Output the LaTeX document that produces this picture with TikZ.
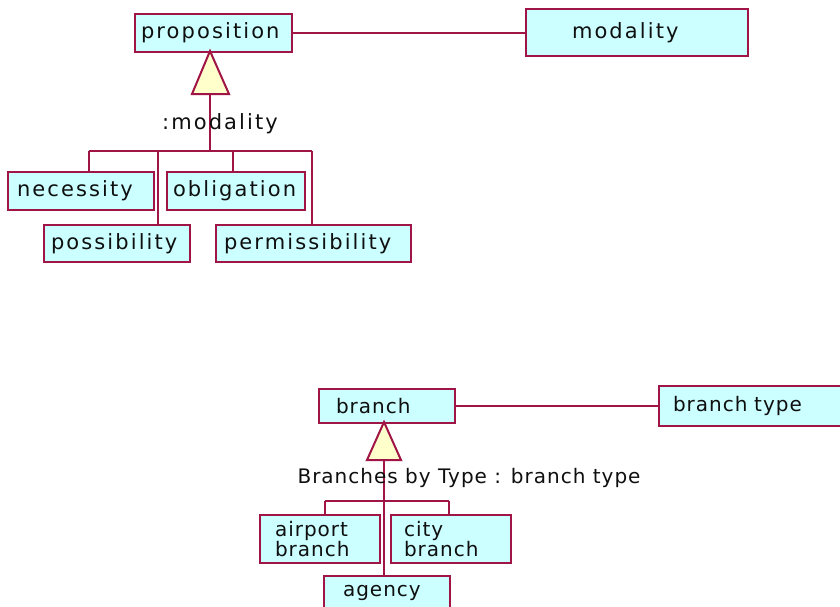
\documentclass[tikz,border=0pt]{standalone}
\usepackage{fontspec}
\newfontfamily\topfam[LetterSpace=10]{DejaVu Sans}
\newfontfamily\botfam[LetterSpace=5]{DejaVu Sans}
\newcommand\topstyle{\topfam\fontsize{21pt}{20pt}\selectfont}
\newcommand\botstyle{\botfam\fontsize{20pt}{20pt}\selectfont}
\definecolor{umlred}{RGB}{160,20,70}
\definecolor{umlfill}{RGB}{204,255,255}
\definecolor{umlyel}{RGB}{255,255,204}
\definecolor{umltext}{RGB}{15,15,15}
\tikzset{
  umlbox/.style={draw=umlred, fill=umlfill, line width=2pt, anchor=north west,
    inner ysep=0pt, align=left, text=umltext},
  conn/.style={draw=umlred, line width=2pt},
  gentri/.style={draw=umlred, fill=umlyel, line width=2pt, line join=miter},
  lbl/.style={text=umltext, inner sep=0pt},
}
% name, x1, y1, x2, y2, pad, font, text
\newcommand\umlnode[8]{%
  \pgfmathsetmacro\bxw{#4-#2}%
  \pgfmathsetmacro\bxh{#5-#3}%
  \pgfmathsetmacro\bxtw{#4-#2-2*#6}%
  \node[umlbox, minimum width=\bxw pt, minimum height=\bxh pt,
        text width=\bxtw pt, inner xsep=#6pt, font=#7] (#1) at (#2,#3) {#8};}
\begin{document}
\begin{tikzpicture}[x=1pt,y=-1pt]
\useasboundingbox (0,0) rectangle (840,606);
\fill[white] (0,0) rectangle (840,606);
\clip (0,0) rectangle (840,606);

% ---------- top diagram ----------
\umlnode{proposition}{134}{13}{291}{51}{6}{\topstyle}{\mbox{proposition}}
\umlnode{modality}{525}{8}{747}{55}{46}{\topstyle}{\mbox{modality}}
\umlnode{necessity}{7}{171}{153}{209}{9}{\topstyle}{\mbox{necessity}}
\umlnode{obligation}{166}{171}{304}{209}{6}{\topstyle}{\mbox{obligation}}
\umlnode{possibility}{43}{224}{189}{261}{7}{\topstyle}{\mbox{possibility}}
\umlnode{permissibility}{215}{224}{410}{261}{8}{\topstyle}{\mbox{permissibility}}

\draw[conn] (proposition.east) -- (proposition.east -| modality.west);

\coordinate (t1apex) at (210,51);
\coordinate (t1base) at (210,94);
\draw[gentri] (t1apex) -- (192,94) -- (229,94) -- cycle;
\coordinate (bus1) at (210,151);
\coordinate (bus1L) at (89,151);
\coordinate (bus1P) at (158,151);
\coordinate (bus1O) at (233,151);
\coordinate (bus1R) at (312,151);
\draw[conn] (t1base) -- (bus1);
\draw[conn] (bus1L) -- (bus1R);
\draw[conn] (bus1L) -- (bus1L |- necessity.north);
\draw[conn] (bus1P) -- (bus1P |- possibility.north);
\draw[conn] (bus1O) -- (bus1O |- obligation.north);
\draw[conn] (bus1R) -- (bus1R |- permissibility.north);
\node[lbl, font=\topstyle] (modlbl) at (220,124) {:modality};

% ---------- bottom diagram ----------
\umlnode{branch}{318}{388}{454}{422}{17}{\botstyle}{\mbox{branch}}
\umlnode{branchtype}{658}{385}{860}{425}{14}{\botstyle}{\mbox{branch type}}
\umlnode{airport}{259}{514}{379}{562}{15}{\botstyle}{\mbox{airport}\\\mbox{branch}}
\umlnode{city}{390}{514}{510}{562}{13}{\botstyle}{\mbox{city}\\\mbox{branch}}
\umlnode{agency}{323}{575}{449}{609}{19}{\botstyle}{\mbox{agency}}

\draw[conn] (branch.east) -- (branch.east -| branchtype.west);

\coordinate (t2apex) at (384,422);
\coordinate (t2base) at (384,460);
\draw[gentri] (t2apex) -- (367,460) -- (401,460) -- cycle;
\coordinate (bus2L) at (325,501);
\coordinate (bus2R) at (449,501);
\draw[conn] (t2base) -- (t2base |- agency.north);
\draw[conn] (bus2L) -- (bus2R);
\draw[conn] (bus2L) -- (bus2L |- airport.north);
\draw[conn] (bus2R) -- (bus2R |- city.north);
\node[lbl, font=\botstyle] (brlbl) at (469,478) {Branches by Type : branch type};
\end{tikzpicture}
\end{document}
